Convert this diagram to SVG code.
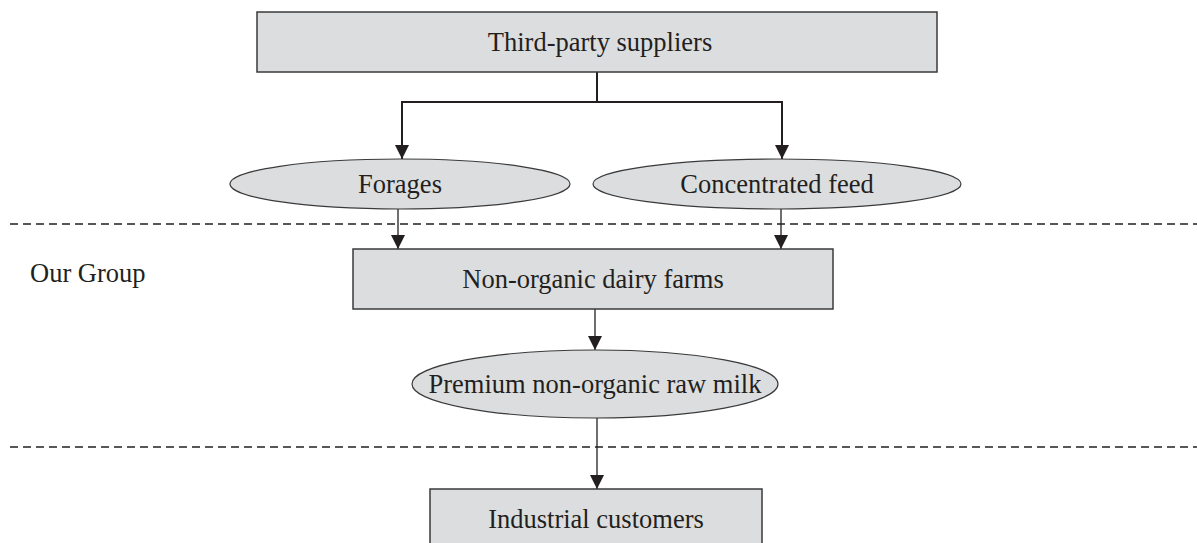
<svg xmlns="http://www.w3.org/2000/svg" width="1197" height="543" viewBox="0 0 1197 543">
<defs>
<style>
.box{fill:#dcdddf;stroke:#3a3a3a;stroke-width:1.5}
.ell{fill:#dcdddf;stroke:#3a3a3a;stroke-width:1.2}
.t{font-family:"Liberation Serif","Times New Roman",serif;font-size:26.5px;fill:#231f20;text-anchor:middle}
.c{fill:none;stroke:#231f20;stroke-width:1.3}
.c2{fill:none;stroke:#231f20;stroke-width:2}
.dash{fill:none;stroke:#231f20;stroke-width:1.5;stroke-dasharray:8,5}
</style>
<marker id="ad" viewBox="0 0 14 14" markerWidth="14" markerHeight="14" refX="14" refY="7" orient="auto" markerUnits="userSpaceOnUse">
<path d="M0,0 L14,7 L0,14 Z" fill="#231f20"/>
</marker>
</defs>
<rect width="1197" height="543" fill="#ffffff"/>
<g id="separators">
<line class="dash" x1="10" y1="224" x2="1197" y2="224"/>
<line class="dash" x1="10" y1="447" x2="1197" y2="447"/>
</g>
<g id="connectors">
<polyline class="c2" points="597,72 597,102"/>
<polyline class="c2" points="597,102 402,102 402,159" marker-end="url(#ad)"/>
<polyline class="c2" points="597,102 782,102 782,159" marker-end="url(#ad)"/>
<line class="c" x1="398" y1="209" x2="398" y2="249" marker-end="url(#ad)"/>
<line class="c" x1="781" y1="209" x2="781" y2="249" marker-end="url(#ad)"/>
<line class="c" x1="595" y1="309" x2="595" y2="350" marker-end="url(#ad)"/>
<line class="c" x1="597" y1="418" x2="597" y2="489" marker-end="url(#ad)"/>
</g>
<g id="node-suppliers">
<rect class="box" x="257" y="12" width="680" height="60"/>
<text class="t" x="600" y="51">Third-party suppliers</text>
</g>
<g id="node-forages">
<ellipse class="ell" cx="400" cy="184" rx="170" ry="25"/>
<text class="t" x="400" y="193">Forages</text>
</g>
<g id="node-feed">
<ellipse class="ell" cx="777" cy="184" rx="184" ry="25"/>
<text class="t" x="777" y="193">Concentrated feed</text>
</g>
<g id="label-group">
<text class="t" x="30" y="282" style="text-anchor:start">Our Group</text>
</g>
<g id="node-farms">
<rect class="box" x="353" y="249" width="480" height="60"/>
<text class="t" x="593" y="288">Non-organic dairy farms</text>
</g>
<g id="node-milk">
<ellipse class="ell" cx="595" cy="384" rx="183" ry="34"/>
<text class="t" x="595" y="393">Premium non-organic raw milk</text>
</g>
<g id="node-customers">
<rect class="box" x="430" y="489" width="332" height="70"/>
<text class="t" x="596" y="528">Industrial customers</text>
</g>
</svg>
